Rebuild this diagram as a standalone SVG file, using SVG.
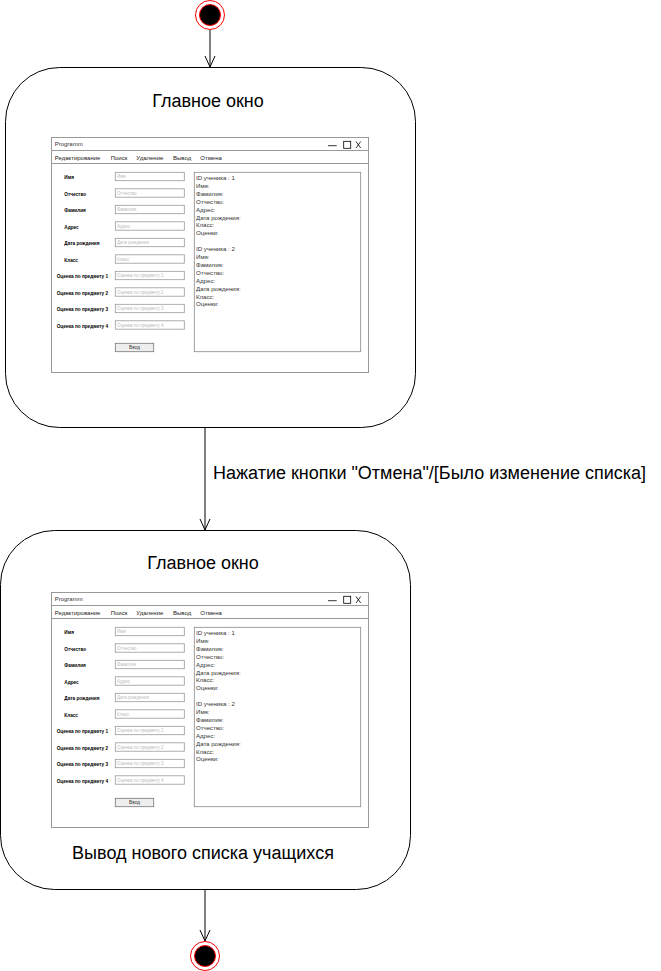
<svg xmlns="http://www.w3.org/2000/svg" xmlns:xlink="http://www.w3.org/1999/xlink" width="661" height="971" viewBox="0 0 661 971">
<style>
text{font-family:"Liberation Sans",Arial,Helvetica,sans-serif}
.state{fill:#fff;stroke:#000;stroke-width:1}
.big{font-size:18px;fill:#000}
.edge{fill:none;stroke:#000;stroke-width:1}
.frame{fill:#fff;stroke:#999;stroke-width:1}
.sep{stroke:#999;stroke-width:1}
.ctl{fill:none;stroke:#000;stroke-width:0.8}
.ttl{font-size:6px;fill:#333}
.menu{font-size:6px;fill:#222}
.lbl{font-size:4.7px;font-weight:bold;fill:#000}
.inp{fill:#fff;stroke:#999;stroke-width:0.8}
.ph{font-size:4.5px;fill:#bbb}
.btn{fill:#eee;stroke:#777;stroke-width:0.8}
.btxt{font-size:4.7px;fill:#333}
.list{fill:#fff;stroke:#888;stroke-width:0.8}
.ltxt{font-size:6.1px;fill:#333}
.ring{fill:#fff;stroke:#f00;stroke-width:1}
.dot{fill:#000;stroke:#f00;stroke-width:1}
</style>
<defs>
<marker id="open" viewBox="0 0 12 12" refX="11" refY="6" markerWidth="12" markerHeight="12" markerUnits="userSpaceOnUse" orient="auto">
<path d="M0,1 L11,6 L0,11" fill="none" stroke="#000" stroke-width="1"/>
</marker>
<g id="window">
<rect class="frame" x="0.5" y="0.5" width="317" height="235"/>
<line class="sep" x1="0.5" y1="13.5" x2="317.5" y2="13.5"/>
<line class="sep" x1="0.5" y1="26.5" x2="317.5" y2="26.5"/>
<text class="ttl" x="3.7" y="9">Programm</text>
<line class="ctl" x1="277" y1="8.7" x2="285.7" y2="8.7"/>
<rect class="ctl" x="292.7" y="4.3" width="7" height="7"/>
<path class="ctl" d="M305,4.5 L309.7,11 M309.7,4.5 L305,11"/>
<text class="menu" y="22.5"><tspan x="3.7">Редактирование</tspan><tspan x="59.7">Поиск</tspan><tspan x="85.3">Удаление</tspan><tspan x="122">Вывод</tspan><tspan x="149.3">Отмена</tspan></text>
<g class="lbl">
<text x="13.3" y="42.3">Имя</text>
<text x="13.3" y="58.8">Отчество</text>
<text x="13.3" y="75.3">Фамилия</text>
<text x="13.3" y="91.8">Адрес</text>
<text x="13.3" y="108.3">Дата рождения</text>
<text x="13.3" y="124.8">Класс</text>
<text x="5.7" y="141.3">Оценка по предмету 1</text>
<text x="5.7" y="157.8">Оценка по предмету 2</text>
<text x="5.7" y="174.3">Оценка по предмету 3</text>
<text x="5.7" y="190.8">Оценка по предмету 4</text>
</g>
<g>
<rect class="inp" x="64.3" y="35.3" width="69" height="8.4"/>
<rect class="inp" x="64.3" y="51.8" width="69" height="8.4"/>
<rect class="inp" x="64.3" y="68.3" width="69" height="8.4"/>
<rect class="inp" x="64.3" y="84.8" width="69" height="8.4"/>
<rect class="inp" x="64.3" y="101.3" width="69" height="8.4"/>
<rect class="inp" x="64.3" y="117.8" width="69" height="8.4"/>
<rect class="inp" x="64.3" y="134.3" width="69" height="8.4"/>
<rect class="inp" x="64.3" y="150.8" width="69" height="8.4"/>
<rect class="inp" x="64.3" y="167.3" width="69" height="8.4"/>
<rect class="inp" x="64.3" y="183.8" width="69" height="8.4"/>
</g>
<g class="ph">
<text x="66" y="41.3">Имя</text>
<text x="66" y="57.8">Отчество</text>
<text x="66" y="74.3">Фамилия</text>
<text x="66" y="90.8">Адрес</text>
<text x="66" y="107.3">Дата рождения</text>
<text x="66" y="123.8">Класс</text>
<text x="66" y="140.3">Оценка по предмету 1</text>
<text x="66" y="156.8">Оценка по предмету 2</text>
<text x="66" y="173.3">Оценка по предмету 3</text>
<text x="66" y="189.8">Оценка по предмету 4</text>
</g>
<rect class="btn" x="64.3" y="206.3" width="38.4" height="8.4"/>
<text class="btxt" x="83.5" y="212.2" text-anchor="middle">Ввод</text>
<rect class="list" x="143.3" y="35.3" width="166.4" height="179.4"/>
<text class="ltxt">
<tspan x="145" y="43">ID ученика : 1</tspan>
<tspan x="145" y="50.9">Имя:</tspan>
<tspan x="145" y="58.8">Фамилия:</tspan>
<tspan x="145" y="66.7">Отчество:</tspan>
<tspan x="145" y="74.6">Адрес:</tspan>
<tspan x="145" y="82.5">Дата рождения:</tspan>
<tspan x="145" y="90.4">Класс:</tspan>
<tspan x="145" y="98.3">Оценки:</tspan>
<tspan x="145" y="114.1">ID ученика : 2</tspan>
<tspan x="145" y="122">Имя:</tspan>
<tspan x="145" y="129.9">Фамилия:</tspan>
<tspan x="145" y="137.8">Отчество:</tspan>
<tspan x="145" y="145.7">Адрес:</tspan>
<tspan x="145" y="153.6">Дата рождения:</tspan>
<tspan x="145" y="161.5">Класс:</tspan>
<tspan x="145" y="169.4">Оценки:</tspan>
</text>
</g>
</defs>

<g id="connectors">
<line class="edge" x1="210" y1="30" x2="210" y2="67" marker-end="url(#open)"/>
<line class="edge" x1="205" y1="428" x2="205" y2="530" marker-end="url(#open)"/>
<text class="big" x="213" y="479">Нажатие кнопки "Отмена"/[Было изменение списка]</text>
<line class="edge" x1="205" y1="890" x2="205" y2="941" marker-end="url(#open)"/>
</g>

<g id="start">
<circle class="ring" cx="210" cy="15" r="14.5"/>
<circle class="dot" cx="210" cy="15" r="10.5"/>
</g>

<g id="state1">
<rect class="state" x="5.5" y="67.5" width="410" height="360" rx="54" ry="54"/>
<text class="big" x="208" y="107" text-anchor="middle">Главное окно</text>
<use xlink:href="#window" href="#window" transform="translate(51,137)"/>
</g>

<g id="state2">
<rect class="state" x="0.5" y="530.5" width="410" height="359" rx="54" ry="54"/>
<text class="big" x="203" y="569" text-anchor="middle">Главное окно</text>
<use xlink:href="#window" href="#window" transform="translate(51,592)"/>
<text class="big" x="203" y="859" text-anchor="middle">Вывод нового списка учащихся</text>
</g>

<g id="end">
<circle class="ring" cx="205" cy="956" r="14.5"/>
<circle class="dot" cx="205" cy="956" r="10.5"/>
</g>
</svg>
